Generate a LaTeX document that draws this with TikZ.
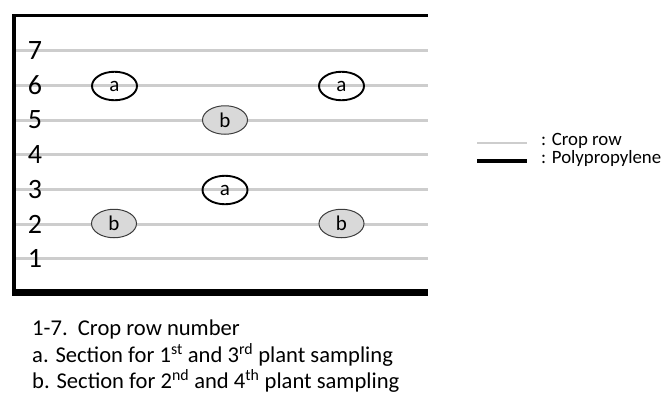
\documentclass[tikz,border=0pt]{standalone}
\usepackage{fontspec}
\setmainfont{Carlito}
\usetikzlibrary{shapes.geometric}
\definecolor{rowgray}{RGB}{205,205,205}
\definecolor{bfill}{RGB}{217,217,217}
\definecolor{bdraw}{RGB}{60,60,60}
\tikzset{
  rowline/.style={draw=rowgray, line width=3pt},
  polyline/.style={draw=black},
  secA/.style={ellipse, draw=black, line width=1.9pt, minimum width=45pt, minimum height=28.5pt, inner sep=0pt, font=\fontsize{21}{24}\selectfont},
  secB/.style={ellipse, draw=bdraw, fill=bfill, line width=1pt, minimum width=45pt, minimum height=28.5pt, inner sep=0pt, font=\fontsize{21}{24}\selectfont},
  rownum/.style={inner sep=0pt, font=\fontsize{28}{30}\selectfont},
  legtext/.style={inner sep=0pt, anchor=base west, font=\fontsize{18.8}{20}\selectfont},
  note/.style={inner sep=0pt, anchor=base west, font=\fontsize{22.6}{26}\selectfont},
}
\begin{document}
\begin{tikzpicture}[x=1pt, y=-1pt]
\useasboundingbox (0,0) rectangle (664,394);
% crop rows
\foreach \k in {1,...,7} {
  \pgfmathsetmacro{\yy}{50.7+(7-\k)*34.67}
  \coordinate (rl\k) at (16,\yy);
  \coordinate (rr\k) at (428,\yy);
  \draw[rowline] (rl\k) -- (rr\k);
  \node[rownum] (n\k) at (35,\yy) {\k};
}
% polypropylene frame
\coordinate (tl) at (12,15.5);
\coordinate (tr) at (428,15.5);
\coordinate (lt) at (14,14);
\coordinate (lb) at (14,294);
\coordinate (bl) at (12,292);
\coordinate (br) at (428,292);
\draw[polyline, line width=3.2pt] (tl) -- (tr);
\draw[polyline, line width=4pt] (lt) -- (lb);
\draw[polyline, line width=7pt] (bl) -- (br);
% sections
\node[secA] (a1) at (114.5,86) {a};
\node[secA] (a2) at (341.5,86) {a};
\node[secA] (a3) at (225,190) {a};
\node[secB] (b1) at (225,120) {b};
\node[secB] (b2) at (114,223.5) {b};
\node[secB] (b3) at (341.5,223.5) {b};
% legend
\coordinate (lg1a) at (477,143);
\coordinate (lg1b) at (527,143);
\coordinate (lg2a) at (477,161);
\coordinate (lg2b) at (527,161);
\draw[rowline, line width=2pt] (lg1a) -- (lg1b);
\draw[polyline, line width=3.5pt] (lg2a) -- (lg2b);
\node[legtext] (t1) at (541,145) {: Crop row};
\node[legtext] (t2) at (541,163) {: Polypropylene};
% notes
\node[note] (m1) at (32,335) {1-7.\ \ Crop row number};
\node[note] (m2) at (32,362) {a. Section for 1\textsuperscript{st} and 3\textsuperscript{rd} plant sampling};
\node[note] (m3) at (32,388) {b. Section for 2\textsuperscript{nd} and 4\textsuperscript{th} plant sampling};
\end{tikzpicture}
\end{document}
